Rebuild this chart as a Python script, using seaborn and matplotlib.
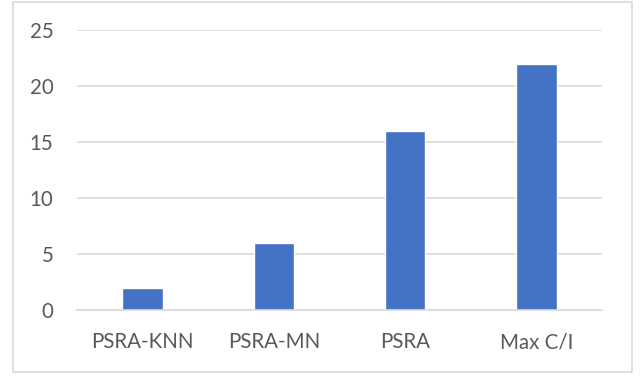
import matplotlib
matplotlib.use("Agg")
import matplotlib.pyplot as plt
import seaborn as sns
import pandas as pd
from matplotlib.patches import Rectangle

categories = ["PSRA-KNN", "PSRA-MN", "PSRA", "Max C/I"]
values = [2, 6, 16, 22]
yticks = [0, 5, 10, 15, 20, 25]

sns.set_theme(style="white")
plt.rcParams['font.family'] = ['Lato', 'DejaVu Sans']

df = pd.DataFrame({"cat": categories, "val": values})

W, H, DPI = 643, 376, 100
fig = plt.figure(figsize=(W / DPI, H / DPI), dpi=DPI)
ax = fig.add_axes([77 / W, 1 - 310 / H, (602 - 77) / W, (310 - 30) / H])

sns.barplot(data=df, x="cat", y="val", color="#4472C4", saturation=1,
            width=0.31, ax=ax, zorder=3)

ax.set_ylim(0, 25)
ax.set_yticks(yticks)
ax.set_xlim(-0.5, 3.5)
ax.set_xlabel("")
ax.set_ylabel("")
ax.yaxis.grid(True, color="#D9D9D9", linewidth=1.2, zorder=0)
ax.xaxis.grid(False)
for s in ["top", "right", "left"]:
    ax.spines[s].set_visible(False)
ax.spines["bottom"].set_color("#D9D9D9")
ax.spines["bottom"].set_linewidth(1.2)
ax.spines["bottom"].set_zorder(4)
ax.tick_params(axis="both", length=0, colors="#595959", labelsize=14.8)
ax.tick_params(axis="y", pad=17)
ax.tick_params(axis="x", pad=16)

# chart border
fig.patches.append(Rectangle((13 / W, 1 - 372 / H), (632 - 13) / W, (372 - 2) / H,
                             transform=fig.transFigure, fill=False,
                             edgecolor="#D9D9D9", linewidth=1.2))

fig.savefig("out.png", dpi=DPI)
